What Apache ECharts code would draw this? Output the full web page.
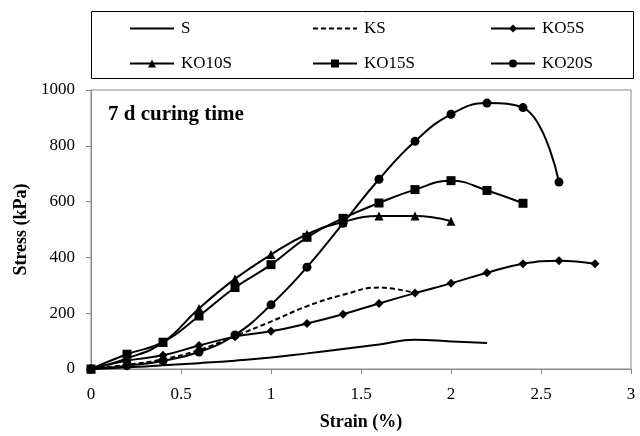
<!DOCTYPE html>
<html>
<head>
<meta charset="utf-8">
<script src="https://cdn.jsdelivr.net/npm/echarts@6/dist/echarts.min.js"></script>
<style>
html,body{margin:0;padding:0;background:#fff;}
#c{width:640px;height:436px;}
</style>
</head>
<body>
<div id="c"></div>
<script>
// ---- data ----
var strain = [0, 0.2, 0.4, 0.6, 0.8, 1.0, 1.2, 1.4, 1.6, 1.8, 2.0, 2.2, 2.4, 2.6, 2.8];
var S     = [0, 6, 13, 21, 30, 41, 56, 72, 88, 105, 99, 93];
var KS    = [0, 15, 35, 68, 118, 170, 225, 266, 292, 272];
var KO5S  = [0, 30, 49, 84, 116, 135, 163, 196, 235, 272, 307, 345, 377, 388, 377];
var KO10S = [0, 38, 95, 217, 323, 410, 483, 527, 548, 548, 530];
var KO15S = [0, 53, 96, 190, 292, 374, 472, 540, 595, 643, 675, 640, 594];
var KO20S = [0, 12, 29, 61, 122, 230, 365, 522, 680, 816, 913, 953, 937, 670];
var seriesNames = ['S', 'KS', 'KO5S', 'KO10S', 'KO15S', 'KO20S'];
var xTicks = [0, 0.5, 1, 1.5, 2, 2.5, 3];
var yTicks = [0, 200, 400, 600, 800, 1000];
var xTitle = 'Strain (%)';
var yTitle = 'Stress (kPa)';
var note = '7 d curing time';

function pairs(vals) {
  return vals.map(function (v, i) { return [strain[i], v]; });
}

var FONT = '"Liberation Serif", "Times New Roman", serif';
var chart = echarts.init(document.getElementById('c'), null, {renderer: 'canvas'});

var styles = {
  'S':     {symbol: 'none', dash: 'solid', size: 0},
  'KS':    {symbol: 'none', dash: [5, 3], size: 0},
  'KO5S':  {symbol: 'diamond', dash: 'solid', size: 9},
  'KO10S': {symbol: 'triangle', dash: 'solid', size: 9},
  'KO15S': {symbol: 'rect', dash: 'solid', size: 9},
  'KO20S': {symbol: 'circle', dash: 'solid', size: 9}
};
var dataMap = {S: S, KS: KS, KO5S: KO5S, KO10S: KO10S, KO15S: KO15S, KO20S: KO20S};

var series = seriesNames.map(function (n) {
  var st = styles[n];
  return {
    name: n,
    type: 'line',
    data: pairs(dataMap[n]),
    smooth: 0.45,
    symbol: st.symbol,
    symbolSize: st.size,
    showSymbol: st.symbol !== 'none',
    lineStyle: {color: '#000', width: 2, type: st.dash},
    itemStyle: {color: '#000'},
    animation: false
  };
});

var legendPos = [
  {left: 129, top: 20}, {left: 312, top: 20}, {left: 490, top: 20},
  {left: 129, top: 55}, {left: 312, top: 55}, {left: 490, top: 55}
];
var legends = seriesNames.map(function (n, i) {
  var noMark = styles[n].symbol === 'none';
  return {
    data: [n],
    left: legendPos[i].left,
    top: legendPos[i].top,
    padding: 0,
    itemWidth: 44,
    itemHeight: 10,
    itemStyle: noMark ? {opacity: 0} : {},
    textStyle: {fontFamily: FONT, fontSize: 17, color: '#000', padding: [0, 0, 0, 2]},
    selectedMode: false
  };
});

chart.setOption({
  animation: false,
  backgroundColor: '#fff',
  title: {
    text: note,
    left: 108,
    top: 104,
    padding: 0,
    textStyle: {fontFamily: FONT, fontSize: 21, fontWeight: 'bold', color: '#000'}
  },
  legend: legends,
  grid: {left: 91, right: 9, top: 90, bottom: 62, show: true, borderColor: '#888', borderWidth: 1},
  xAxis: {
    type: 'value',
    min: xTicks[0], max: xTicks[xTicks.length - 1], interval: 0.5,
    name: xTitle, nameLocation: 'middle', nameGap: 44,
    nameTextStyle: {fontFamily: FONT, fontSize: 18, fontWeight: 'bold', color: '#000'},
    axisLine: {lineStyle: {color: '#888', width: 1}},
    axisTick: {show: true, length: 5, lineStyle: {color: '#888'}},
    axisLabel: {fontFamily: FONT, fontSize: 17, color: '#000', margin: 17},
    splitLine: {show: false}
  },
  yAxis: {
    type: 'value',
    min: yTicks[0], max: yTicks[yTicks.length - 1], interval: 200,
    name: yTitle, nameLocation: 'middle', nameGap: 50,
    nameTextStyle: {fontFamily: FONT, fontSize: 18, fontWeight: 'bold', color: '#000'},
    axisLine: {show: true, lineStyle: {color: '#888', width: 1}},
    axisTick: {show: true, length: 5, lineStyle: {color: '#888'}},
    axisLabel: {fontFamily: FONT, fontSize: 17, color: '#000', margin: 16,
      formatter: function (v) { return String(v); }},
    splitLine: {show: false}
  },
  graphic: [{
    type: 'rect',
    shape: {x: 91.5, y: 11.5, width: 542, height: 67},
    style: {fill: 'none', stroke: '#000', lineWidth: 1},
    silent: true
  }],
  series: series
});
</script>
</body>
</html>
